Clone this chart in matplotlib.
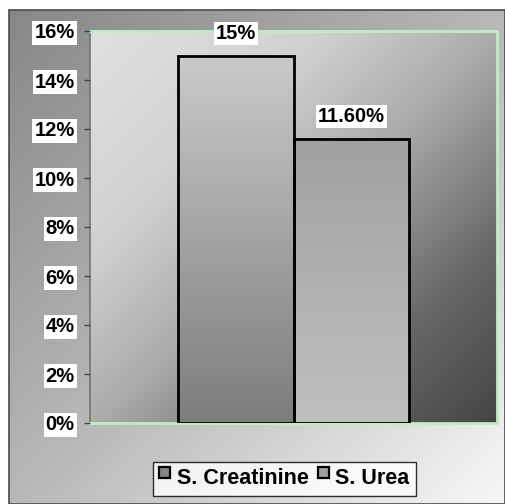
import matplotlib
matplotlib.use("Agg")
import matplotlib.pyplot as plt
from matplotlib.patches import Patch, Rectangle
from matplotlib.legend_handler import HandlerPatch
import numpy as np

plt.rcParams['font.family'] = ['Liberation Sans', 'DejaVu Sans']
plt.rcParams['font.weight'] = 'bold'

categories = ["S. Creatinine", "S. Urea"]
values = [15, 11.6]
value_labels = ["15%", "11.60%"]
y_ticks = [0, 2, 4, 6, 8, 10, 12, 14, 16]

W, H = 505, 504
fig = plt.figure(figsize=(W / 100, H / 100), dpi=100)
fig.patch.set_facecolor('white')


def diag_gradient(nx, ny, ts, vs):
    # diagonal fill from the top-left corner to the bottom-right corner
    xx, yy = np.meshgrid(np.linspace(0, 1, nx), np.linspace(0, 1, ny))
    t = (xx + yy) / 2
    g = np.interp(t, ts, vs)
    return np.dstack([g, g, g])


# outer chart area
bg = fig.add_axes([9 / W, 0, (W - 9) / W, (H - 10) / H])
bg.imshow(diag_gradient(200, 200, [0, 0.5, 1], [0.53, 0.72, 0.97]),
          aspect='auto', extent=(0, 1, 0, 1), interpolation='bilinear')
bg.set_xlim(0, 1)
bg.set_ylim(0, 1)
bg.axis('off')
bg.add_patch(Rectangle((0, 0), 1, 1, transform=bg.transAxes, fill=False,
                       edgecolor='#4a4a4a', lw=1.2, clip_on=False))

# plot area
left, right, top, bottom = 90, 497, 31, 423
ax = fig.add_axes([left / W, (H - bottom) / H, (right - left) / W, (bottom - top) / H])
ax.set_facecolor('none')
xlim = (-1.265, 2.265)
ylim = (0, 16)
ax.imshow(diag_gradient(200, 200, [0, 0.28, 0.5, 0.78, 1], [0.88, 0.82, 0.675, 0.40, 0.27]),
          aspect='auto', extent=(xlim[0], xlim[1], ylim[0], ylim[1]),
          interpolation='bilinear', zorder=0)

x = np.arange(len(categories))
bars = ax.bar(x, values, width=1.0, facecolor='none', edgecolor='black',
              linewidth=2.0, zorder=3)

# vertical shading inside each bar (top colour, bottom colour)
bar_shades = [(0.79, 0.49), (0.63, 0.75)]
for bar, (c_top, c_bot) in zip(bars, bar_shades):
    g = np.linspace(c_top, c_bot, 100)[:, None] * np.ones((1, 2))
    img = ax.imshow(np.dstack([g, g, g]), aspect='auto', interpolation='bilinear',
                    extent=(bar.get_x(), bar.get_x() + bar.get_width(), 0, bar.get_height()),
                    zorder=2)
    img.set_clip_path(bar)

for xi, v, lab in zip(x, values, value_labels):
    ax.annotate(lab, (xi, v), xytext=(0, 16), textcoords='offset points',
                ha='center', va='center', fontsize=14.5, fontweight='bold',
                bbox=dict(facecolor='white', edgecolor='none', pad=1.5), zorder=5)

ax.set_xlim(*xlim)
ax.set_ylim(*ylim)
ax.set_xticks([])
ax.set_yticks(y_ticks)
ax.set_yticklabels([f"{t}%" for t in y_ticks])
ax.tick_params(axis='y', direction='out', length=4, width=1, color='#444444', pad=7,
               labelsize=14.5)
for lbl in ax.get_yticklabels():
    lbl.set_fontweight('bold')
    lbl.set_bbox(dict(facecolor='white', edgecolor='none', pad=1.5))

for side, sp in ax.spines.items():
    sp.set_color('#c4ecc4')
    sp.set_linewidth(2)
    sp.set_zorder(1)
ax.spines['left'].set_color('#6a7a6a')
ax.spines['left'].set_linewidth(1.2)


def small_box(legend, orig_handle, xdescent, ydescent, width, height, fontsize):
    # raised square key, as in spreadsheet legends
    return Rectangle((-xdescent, -ydescent + height * 0.45), width, width)


handles = [Patch(facecolor='#858585', edgecolor='black', linewidth=1.6),
           Patch(facecolor='#a0a0a0', edgecolor='black', linewidth=1.6)]
leg = fig.legend(handles, categories, loc='center', bbox_to_anchor=(284.5 / W, 25 / H),
                 ncol=2, frameon=True, fancybox=False, fontsize=15.5,
                 handlelength=0.5, handleheight=0.65, handletextpad=0.3,
                 columnspacing=0.45, borderpad=0.28, borderaxespad=0,
                 handler_map={Patch: HandlerPatch(patch_func=small_box)})
leg.get_frame().set_edgecolor('black')
leg.get_frame().set_linewidth(1)
for t in leg.get_texts():
    t.set_fontweight('bold')

fig.savefig("out.png", dpi=100)
